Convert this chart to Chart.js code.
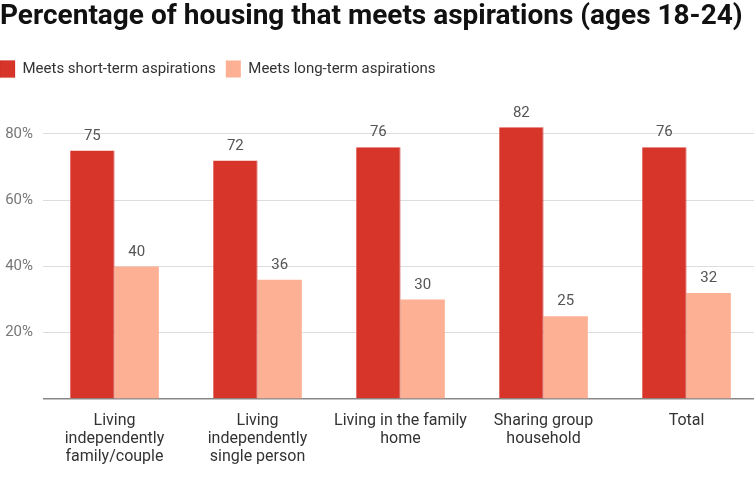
<!DOCTYPE html>
<html>
<head>
<meta charset="utf-8">
<script src="https://cdn.jsdelivr.net/npm/chart.js@4"></script>
<style>
  html, body { margin: 0; padding: 0; background: #fff; overflow: hidden; }
  #wrap { width: 758px; height: 481px; }
</style>
</head>
<body>
<div id="wrap"><canvas id="housingChart"></canvas></div>
<script>
const categories = [
    ['Living', 'independently', 'family/couple'],
    ['Living', 'independently', 'single person'],
    ['Living in the family', 'home'],
    ['Sharing group', 'household'],
    'Total'
];
const shortTerm = [75, 72, 76, 82, 76];
const longTerm = [40, 36, 30, 25, 32];
const yTicks = [20, 40, 60, 80];

// valeurs au-dessus des barres
const barValues = {
    id: 'barValues',
    afterDatasetsDraw(chart) {
        const ctx = chart.ctx;
        ctx.save();
        ctx.font = '15px Roboto';
        ctx.fillStyle = '#555';
        ctx.textAlign = 'center';
        ctx.textBaseline = 'bottom';
        chart.data.datasets.forEach((ds, i) => {
            chart.getDatasetMeta(i).data.forEach((bar, j) => {
                ctx.fillText(ds.data[j], bar.x, bar.y - 7);
            });
        });
        ctx.restore();
    }
};

// légende collée au bord gauche
const legendShift = {
    id: 'legendShift',
    afterLayout(chart) {
        if (chart.legend) {
            chart.legend.left -= 10;
            chart.legend.right -= 10;
        }
    }
};

const ctx = document.getElementById('housingChart').getContext('2d');
new Chart(ctx, {
    type: 'bar',
    data: {
        labels: categories,
        datasets: [
            {
                label: 'Meets short-term aspirations',
                data: shortTerm,
                backgroundColor: '#d7352a',
                borderColor: '#c41810',
                borderWidth: { top: 0, right: 1, bottom: 0, left: 0 },
                categoryPercentage: 0.62,
                barPercentage: 1
            },
            {
                label: 'Meets long-term aspirations',
                data: longTerm,
                backgroundColor: '#feb094',
                borderWidth: 0,
                categoryPercentage: 0.62,
                barPercentage: 1
            }
        ]
    },
    options: {
        responsive: true,
        maintainAspectRatio: false,
        animation: false,
        layout: { padding: { left: 0, right: 0, top: 0, bottom: 10 } },
        plugins: {
            title: {
                display: true,
                text: 'Percentage of housing that meets aspirations (ages 18-24)',
                align: 'start',
                color: '#111',
                font: { family: 'Roboto', size: 28, weight: 'bold' },
                padding: { top: 0, bottom: 17 }
            },
            legend: {
                align: 'start',
                labels: {
                    boxWidth: 15,
                    boxHeight: 17,
                    color: '#333',
                    font: { family: 'Roboto', size: 15 },
                    padding: 10
                }
            },
            tooltip: { enabled: false }
        },
        scales: {
            x: {
                grid: { display: false },
                border: { display: false },
                ticks: {
                    color: '#333',
                    font: { family: 'Roboto', size: 16, lineHeight: 1.125 },
                    maxRotation: 0,
                    padding: 5
                }
            },
            y: {
                min: 0,
                max: 94,
                afterBuildTicks(axis) {
                    axis.ticks = [0].concat(yTicks).map(v => ({ value: v }));
                },
                afterFit(axis) {
                    axis.width = 43;
                },
                border: { display: false },
                grid: {
                    color: (c) => c.tick && c.tick.value === 0 ? '#888' : '#ddd',
                    lineWidth: (c) => c.tick && c.tick.value === 0 ? 1.5 : 1,
                    drawTicks: false
                },
                ticks: {
                    color: '#777',
                    font: { family: 'Roboto', size: 15 },
                    padding: 10,
                    callback: (v) => v === 0 ? '' : v + '%'
                }
            }
        }
    },
    plugins: [barValues, legendShift]
});
</script>
</body>
</html>
